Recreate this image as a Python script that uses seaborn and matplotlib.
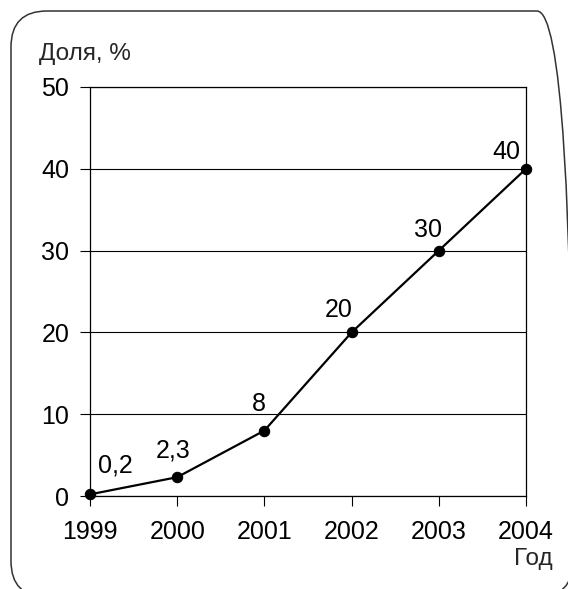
import numpy as np
import pandas as pd
import matplotlib
matplotlib.use("Agg")
import matplotlib.pyplot as plt
import seaborn as sns
from matplotlib.patches import FancyBboxPatch
from matplotlib.transforms import IdentityTransform

years = [1999, 2000, 2001, 2002, 2003, 2004]
share = [0.2, 2.3, 8, 20, 30, 40]
share_labels = ["0,2", "2,3", "8", "20", "30", "40"]
# label offsets (points) relative to each point
label_dx = [18, -3, -4, -9, -8, -14]
label_dy = [21, 19, 19, 16, 15, 12]

sns.set_style("white")
plt.rcParams['font.family'] = ['Liberation Sans', 'DejaVu Sans']

df = pd.DataFrame({"year": years, "share": share})

fig = plt.figure(figsize=(5.68, 5.89), dpi=100)
ax = fig.add_axes([90/568, 1 - 496/589, (526 - 90)/568, (496 - 87)/589])

sns.lineplot(data=df, x="year", y="share", color="black", linewidth=1.6,
             marker="o", markersize=7.5, markeredgecolor="black",
             markerfacecolor="black", ax=ax, clip_on=False, zorder=5)

for x, y, t, dx, dy in zip(years, share, share_labels, label_dx, label_dy):
    ax.annotate(t, (x, y), xytext=(dx, dy), textcoords="offset points",
                ha="center", va="center", fontsize=18, color="black")

ax.set_xlim(1999, 2004)
ax.set_ylim(0, 50)
ax.set_xticks(years)
ax.set_yticks([0, 10, 20, 30, 40, 50])
ax.set_xlabel("")
ax.set_ylabel("")
ax.grid(axis="y", color="black", linewidth=0.8)
ax.grid(axis="x", visible=False)
for s in ax.spines.values():
    s.set_visible(True)
    s.set_color("black")
    s.set_linewidth(0.9)
ax.tick_params(axis="both", direction="out", length=7, width=0.8,
               color="black", labelsize=18, labelcolor="black", pad=8,
               bottom=True, left=True)
ax.tick_params(axis="x", pad=10)

fig.text(39/568, 1 - 54/589, "Доля, %", fontsize=17.5, ha="left", va="center")
fig.text(553/568, 1 - 559/589, "Год", fontsize=17.5, ha="right", va="center")

box = FancyBboxPatch((11, -8), 573 - 11, 589 - 11 + 8,
                     boxstyle="round,pad=0,rounding_size=36",
                     transform=IdentityTransform(), fill=False,
                     edgecolor="#333333", linewidth=1.1)
fig.patches.append(box)

fig.savefig("out.png", dpi=100)
